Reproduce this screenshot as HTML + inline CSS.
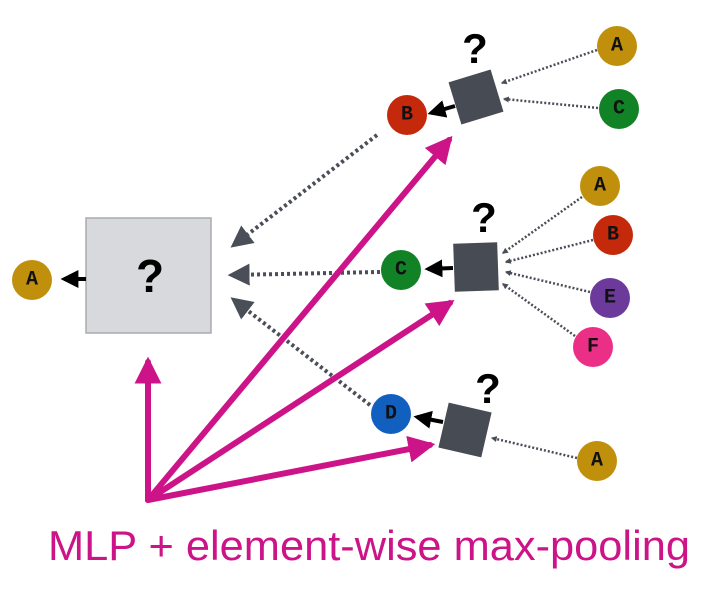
<!DOCTYPE html>
<html><head><meta charset="utf-8"><style>
html,body{margin:0;padding:0;background:#fff;}
svg{display:block;}
.l{font-family:"Liberation Mono","DejaVu Sans Mono",monospace;font-weight:bold;font-size:20px;fill:#111;text-anchor:middle;dominant-baseline:central;}
.q{font-family:"Liberation Sans",sans-serif;font-weight:bold;fill:#000;text-anchor:middle;}
</style></head><body>
<svg width="706" height="590" viewBox="0 0 706 590" xmlns="http://www.w3.org/2000/svg">
<defs>
<marker id="ga" viewBox="0 0 10 10" refX="8" refY="5" markerWidth="6" markerHeight="6" orient="auto" markerUnits="userSpaceOnUse"><path d="M0,0 L10,5 L0,10 z" fill="#4a4e57"/></marker>
<marker id="gab" viewBox="0 0 10 10" refX="8" refY="5" markerWidth="5.5" markerHeight="5.5" orient="auto"><path d="M0,0 L10,5 L0,10 z" fill="#4a4e57"/></marker>
<marker id="ba" viewBox="0 0 10 10" refX="8" refY="5" markerWidth="4.5" markerHeight="4.5" orient="auto"><path d="M0,0 L10,5 L0,10 z" fill="#000"/></marker>
<marker id="ma" viewBox="0 0 10 10" refX="8" refY="5" markerWidth="4.5" markerHeight="4.5" orient="auto"><path d="M0,0 L10,5 L0,10 z" fill="#cc1488"/></marker>
</defs>

<rect x="86" y="218" width="125" height="115" fill="#d8d9dc" stroke="#a9abaf" stroke-width="1.5"/>
<text class="q" x="150" y="292" font-size="46">?</text>
<line x1="86" y1="279" x2="64" y2="279" stroke="#000" stroke-width="4" marker-end="url(#ba)"/>
<circle cx="32" cy="280" r="20" fill="#c0900c"/><text class="l" x="32" y="280">A</text>

<g stroke="#4a4e57" stroke-width="4" stroke-dasharray="3,3" fill="none">
<line x1="377" y1="135" x2="234" y2="245" marker-end="url(#gab)"/>
<line x1="380" y1="272" x2="232" y2="275" marker-end="url(#gab)"/>
<line x1="370" y1="405" x2="234" y2="300" marker-end="url(#gab)"/>
</g>

<g stroke="#cc1488" stroke-width="6" fill="none" stroke-linecap="round">
<line x1="148" y1="500" x2="148" y2="362" marker-end="url(#ma)"/>
<line x1="148" y1="500" x2="449" y2="140" marker-end="url(#ma)"/>
<line x1="148" y1="500" x2="450" y2="303" marker-end="url(#ma)"/>
<line x1="148" y1="500" x2="430" y2="445" marker-end="url(#ma)"/>
</g>

<rect x="454" y="75" width="44" height="44" fill="#474b54" transform="rotate(-17 476 97)"/>
<text class="q" x="475" y="63" font-size="42">?</text>
<line x1="455" y1="106" x2="431" y2="113" stroke="#000" stroke-width="4" marker-end="url(#ba)"/>
<circle cx="407" cy="115" r="20" fill="#c4290c"/><text class="l" x="407" y="115">B</text>
<circle cx="617" cy="46" r="20" fill="#c0900c"/><text class="l" x="617" y="46">A</text>
<circle cx="619" cy="109" r="20" fill="#128226"/><text class="l" x="619" y="109">C</text>
<g stroke="#4a4e57" stroke-width="2.5" stroke-dasharray="2,2" fill="none">
<line x1="597" y1="50" x2="502" y2="83" marker-end="url(#ga)"/>
<line x1="598" y1="108" x2="504" y2="99" marker-end="url(#ga)"/>
</g>

<rect x="454" y="243" width="44" height="48" fill="#474b54" transform="rotate(-2 476 267)"/>
<text class="q" x="484" y="232" font-size="42">?</text>
<line x1="453" y1="268" x2="428" y2="269" stroke="#000" stroke-width="4" marker-end="url(#ba)"/>
<circle cx="401" cy="270" r="20" fill="#128226"/><text class="l" x="401" y="270">C</text>
<circle cx="600" cy="186" r="20" fill="#c0900c"/><text class="l" x="600" y="186">A</text>
<circle cx="613" cy="235" r="20" fill="#c4290c"/><text class="l" x="613" y="235">B</text>
<circle cx="610" cy="298" r="20" fill="#6c3a9a"/><text class="l" x="610" y="298">E</text>
<circle cx="593" cy="347" r="20" fill="#ec2f86"/><text class="l" x="593" y="347">F</text>
<g stroke="#4a4e57" stroke-width="2.5" stroke-dasharray="2,2" fill="none">
<line x1="582" y1="197" x2="503" y2="253" marker-end="url(#ga)"/>
<line x1="593" y1="240" x2="506" y2="262" marker-end="url(#ga)"/>
<line x1="590" y1="292" x2="506" y2="272" marker-end="url(#ga)"/>
<line x1="575" y1="336" x2="503" y2="284" marker-end="url(#ga)"/>
</g>

<rect x="443" y="407" width="44" height="46" fill="#474b54" transform="rotate(13 465 430)"/>
<text class="q" x="488" y="403" font-size="42">?</text>
<line x1="443" y1="422" x2="417" y2="417" stroke="#000" stroke-width="4" marker-end="url(#ba)"/>
<circle cx="391" cy="414" r="20" fill="#1160c0"/><text class="l" x="391" y="414">D</text>
<circle cx="597" cy="461" r="20" fill="#c0900c"/><text class="l" x="597" y="461">A</text>
<line x1="577" y1="458" x2="492" y2="438" stroke="#4a4e57" stroke-width="2.5" stroke-dasharray="2,2" marker-end="url(#ga)"/>

<text x="48" y="560" font-family="Liberation Sans, sans-serif" font-size="42" fill="#cc1488" textLength="642" lengthAdjust="spacingAndGlyphs">MLP + element-wise max-pooling</text>
</svg>
</body></html>
